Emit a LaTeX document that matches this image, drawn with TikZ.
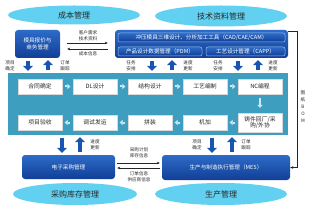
\documentclass[tikz,border=0pt]{standalone}
\usepackage{fontspec}
\setmainfont{Noto Sans CJK SC}
\usetikzlibrary{arrows.meta,shapes.geometric}
\definecolor{ellC}{RGB}{98,208,240}
\definecolor{navyT}{RGB}{44,108,200}
\definecolor{navyB}{RGB}{18,62,150}
\definecolor{panelC}{RGB}{62,158,192}
\definecolor{arrB}{RGB}{24,84,176}
\definecolor{arrL}{RGB}{205,232,246}
\definecolor{txtD}{RGB}{40,40,40}

\begin{document}
\begin{tikzpicture}[x=1pt, y=-1pt, >=Stealth, line cap=round,
  ell/.style={ellipse, fill=ellC, inner sep=0pt, text=txtD, font=\fontsize{8}{9}\selectfont},
  navy/.style={rounded corners=3pt, top color=navyT, bottom color=navyB, text=white, align=center, inner sep=0pt, font=\fontsize{5.6}{7}\selectfont},
  sub/.style={navy, draw={rgb,255:red,150;green,190;blue,235}, line width=0.5pt, rounded corners=2pt, minimum height=9pt},
  wbox/.style={fill=white, draw=black!15, text=txtD, align=center, inner sep=0pt, minimum width=44pt, minimum height=15pt, font=\fontsize{5.8}{6.8}\selectfont},
  lab/.style={text=txtD, align=center, inner sep=0pt, font=\fontsize{4.6}{5.6}\selectfont},
  bigarr/.style={draw=arrB, line width=3.5pt, line cap=butt, -{Triangle[width=10pt,length=5pt]}, shorten >=2pt, shorten <=2.5pt},
  flow/.style={draw=arrL, line width=2pt, line cap=butt, -{Triangle[width=5.5pt,length=3pt]}, shorten >=2.5pt, shorten <=2.5pt},
  thinarr/.style={-{Stealth[length=3pt,width=2.6pt]}, line width=0.7pt, draw=black!85}]
\useasboundingbox (0,0) rectangle (312,208);
% 顶部管理域
\node[ell, minimum width=132pt, minimum height=19pt] (cost) at (74,15) {成本管理};
\node[ell, minimum width=132pt, minimum height=21pt] (techm) at (221,16) {技术资料管理};
% 报价与技术资料模块
\node[navy, minimum width=45pt, minimum height=28pt] (quote) at (37.5,44) {模具报价与\\商务管理};
\node[navy, minimum width=173pt, minimum height=28pt] (tech) at (201.5,44) {};
\node[sub, minimum width=167pt] (cad) at (201.5,37.5) {冲压模具三维设计、分析加工工具（CAD/CAE/CAM）};
\node[sub, minimum width=84pt] (pdm) at (160,51.5) {产品设计数据管理（PDM）};
\node[sub, minimum width=79pt] (capp) at (245.5,51.5) {工艺设计管理（CAPP）};
\draw[thinarr, shorten <=7pt, shorten >=7pt] ([yshift=1pt]quote.east) -- ([yshift=1pt]quote.east -| tech.west);
\draw[thinarr, shorten <=7pt, shorten >=7pt] ([yshift=-5pt]quote.east -| tech.west) -- ([yshift=-5pt]quote.east);
\node[lab] (need) at (88,35.5) {客户需求\\技术资料};
\node[lab] (costinfo) at (88,54) {成本信息};
% 中部流程面板
\node[fill=panelC, minimum width=280pt, minimum height=62pt, inner sep=0pt] (panel) at (148,104) {};
\node[wbox] (ra) at (40,86.5) {合同确定};
\node[wbox] (rb) at (95,86.5) {DL设计};
\node[wbox] (rc) at (150,86.5) {结构设计};
\node[wbox] (rd) at (205,86.5) {工艺编制};
\node[wbox] (re) at (260,86.5) {NC编程};
\node[wbox] (sa) at (40,122.5) {项目验收};
\node[wbox] (sb) at (95,122.5) {调试发运};
\node[wbox] (sc) at (150,122.5) {拼装};
\node[wbox] (sd) at (205,122.5) {机加};
\node[wbox, minimum height=19pt] (se) at (260,122.5) {铸件回厂/采\\购/外协};
\draw[flow] (ra) -- (rb);
\draw[flow] (rb) -- (rc);
\draw[flow] (rc) -- (rd);
\draw[flow] (rd) -- (re);
\draw[flow, shorten <=4pt, shorten >=5pt] (re) -- (se);
\draw[flow] (se) -- (sd);
\draw[flow] (sd) -- (sc);
\draw[flow] (sc) -- (sb);
\draw[flow] (sb) -- (sa);
% 上方大箭头
\draw[bigarr] ([xshift=-9.5pt]quote.south) -- ([xshift=-9.5pt]quote.south |- panel.north);
\draw[bigarr] ([xshift=10.5pt]quote.south |- panel.north) -- ([xshift=10.5pt]quote.south);
\draw[bigarr] ([xshift=-49.5pt]tech.south) -- ([xshift=-49.5pt]tech.south |- panel.north);
\draw[bigarr] ([xshift=-29.5pt]tech.south |- panel.north) -- ([xshift=-29.5pt]tech.south);
\draw[bigarr] ([xshift=36.5pt]tech.south) -- ([xshift=36.5pt]tech.south |- panel.north);
\draw[bigarr] ([xshift=56.5pt]tech.south |- panel.north) -- ([xshift=56.5pt]tech.south);
\node[lab] (l1) at (10,66) {项目\\确定};
\node[lab] (l2) at (65,66) {订单\\跟踪};
\node[lab] (l3) at (131,66) {任务\\安排};
\node[lab] (l4) at (188,66) {进度\\更新};
\node[lab] (l5) at (218,66) {任务\\安排};
\node[lab] (l6) at (273,66) {进度\\更新};
% 底部模块
\node[navy, minimum width=93pt, minimum height=24pt] (buy) at (68.5,167) {电子采购管理};
\node[navy, minimum width=128pt, minimum height=25pt] (mes) at (226,167.5) {生产与制造执行管理（MES）};
\draw[bigarr] ([xshift=-6.5pt]buy.north |- panel.south) -- ([xshift=-6.5pt]buy.north);
\draw[bigarr] ([xshift=11.5pt]buy.north) -- ([xshift=11.5pt]buy.north |- panel.south);
\draw[bigarr] ([xshift=-14pt]mes.north |- panel.south) -- ([xshift=-14pt]mes.north);
\draw[bigarr] ([xshift=6pt]mes.north) -- ([xshift=6pt]mes.north |- panel.south);
\node[lab] (l7) at (95,145) {进度\\更新};
\node[lab] (l8) at (197,145) {项目\\确定};
\node[lab] (l9) at (246,145) {订单\\跟踪};
\draw[thinarr, shorten <=2pt, shorten >=2pt] ([yshift=4pt]buy.east) -- ([yshift=4pt]buy.east -| mes.west);
\draw[thinarr, shorten <=2pt, shorten >=2pt] ([yshift=-1pt]buy.east -| mes.west) -- ([yshift=-1pt]buy.east);
\node[lab] (plan) at (139,153) {采购计划\\库存信息};
\node[lab] (order) at (139,177) {订单信息\\供应商信息};
% 图纸BOM 回路
\draw[thinarr] ([yshift=-2pt]tech.north east) -- ++(9,0) |- (mes.east);
\node[lab, font=\fontsize{4.6}{7}\selectfont] (bom) at (303,107) {图\\纸\\B\\O\\M};
% 底部管理域
\node[ell, minimum width=124pt, minimum height=22pt] (buym) at (75,194) {采购库存管理};
\node[ell, minimum width=132pt, minimum height=22pt] (prodm) at (221,194) {生产管理};
\end{tikzpicture}
\end{document}
